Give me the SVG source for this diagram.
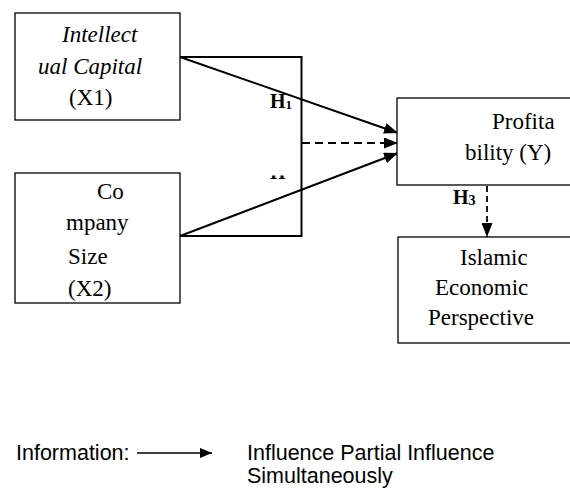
<svg xmlns="http://www.w3.org/2000/svg" width="570" height="497" viewBox="0 0 570 497">
<style>
.box{fill:#fff;stroke:#000;stroke-width:1.3}
.t{font-family:"Liberation Serif","Times New Roman",serif;font-size:23px;fill:#000}
.it{font-style:italic}
.h{font-family:"Liberation Serif","Times New Roman",serif;font-weight:bold;font-size:20px;fill:#000}
.lg{font-family:"Liberation Sans",Arial,sans-serif;font-size:21.5px;fill:#000}
.ln{stroke:#000;stroke-width:2;fill:none}
.dash{stroke:#000;stroke-width:2.2;fill:none;stroke-dasharray:8 5}
.vdash{stroke:#000;stroke-width:1.8;fill:none;stroke-dasharray:6 4}
</style>
<defs>
<marker id="ah" viewBox="0 0 14 11" refX="14" refY="5.5" markerWidth="14" markerHeight="11" markerUnits="userSpaceOnUse" orient="auto">
<path d="M0,0 L14,5.5 L0,11 Z" fill="#000"/>
</marker>
<marker id="ahs" viewBox="0 0 12 10" refX="12" refY="5" markerWidth="12" markerHeight="10" markerUnits="userSpaceOnUse" orient="auto">
<path d="M0,0 L12,5 L0,10 Z" fill="#000"/>
</marker>
<clipPath id="cut"><rect x="260" y="175.5" width="40" height="4"/></clipPath>
</defs>
<rect width="570" height="497" fill="#fff"/>
<g id="connectors">
<path class="ln" d="M180,57 H301.5 V236 H180"/>
<line class="ln" x1="180" y1="57" x2="398" y2="133" marker-end="url(#ah)"/>
<line class="ln" x1="180" y1="236" x2="398" y2="153" marker-end="url(#ah)"/>
<line class="dash" x1="302" y1="143" x2="398" y2="143" marker-end="url(#ah)"/>
<line class="vdash" x1="487" y1="186" x2="487" y2="237" marker-end="url(#ah)"/>
<text class="h" x="270" y="108">H<tspan font-size="13" dy="1">1</tspan></text>
<text class="h" x="270" y="179" clip-path="url(#cut)">H</text>
<text class="h" x="453" y="204">H<tspan font-size="14" dy="1">3</tspan></text>
</g>
<g id="intellectual-capital">
<rect class="box" x="15" y="13" width="165" height="107"/>
<text class="t it" x="62" y="42">Intellect</text>
<text class="t it" x="38" y="74">ual Capital</text>
<text class="t" x="69" y="105">(X1)</text>
</g>
<g id="company-size">
<rect class="box" x="15" y="173" width="165" height="130"/>
<text class="t" x="97" y="199">Co</text>
<text class="t" x="66" y="230">mpany</text>
<text class="t" x="68" y="264">Size</text>
<text class="t" x="68" y="296">(X2)</text>
</g>
<g id="profitability">
<rect class="box" x="397" y="98" width="180" height="87"/>
<text class="t" x="492" y="129">Profita</text>
<text class="t" x="465" y="160">bility (Y)</text>
</g>
<g id="islamic-economic">
<rect class="box" x="398" y="237" width="180" height="106"/>
<text class="t" x="460" y="265">Islamic</text>
<text class="t" x="435" y="295">Economic</text>
<text class="t" x="428" y="325">Perspective</text>
</g>
<g id="legend">
<text class="lg" x="16" y="460">Information:</text>
<line stroke="#000" stroke-width="1.6" x1="137" y1="453" x2="212" y2="453" marker-end="url(#ahs)"/>
<text class="lg" x="247" y="460">Influence Partial Influence</text>
<text class="lg" x="247" y="483">Simultaneously</text>
</g>
</svg>
